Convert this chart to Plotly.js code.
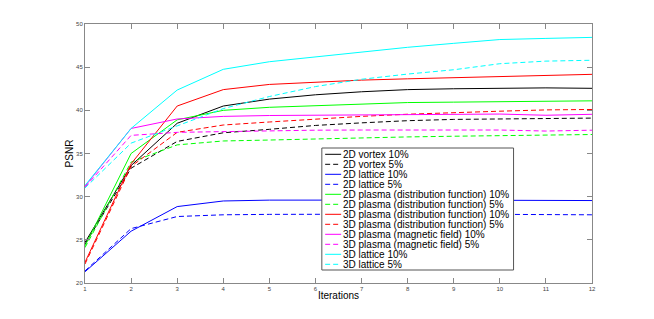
<!DOCTYPE html>
<html>
<head>
<meta charset="utf-8">
<script src="https://cdn.plot.ly/plotly-3.0.1.min.js"></script>
<style>html,body{margin:0;padding:0;background:#fff;}#chart{width:654px;height:319px;}</style>
</head>
<body>
<div id="chart"></div>
<script>
var iterations = [1, 2, 3, 4, 5, 6, 7, 8, 9, 10, 11, 12];

var vortex2d10   = [24.7, 33.6, 38.5, 40.5, 41.3, 41.8, 42.15, 42.4, 42.5, 42.55, 42.6, 42.55];
var vortex2d5    = [24.5, 33.3, 36.4, 37.4, 37.8, 38.25, 38.55, 38.8, 38.95, 39.0, 39.05, 39.1];
var lattice2d10  = [21.3, 26.0, 28.85, 29.5, 29.6, 29.62, 29.62, 29.6, 29.6, 29.58, 29.55, 29.55];
var lattice2d5   = [21.4, 26.3, 27.7, 27.9, 27.95, 27.97, 28.0, 28.0, 27.98, 27.95, 27.92, 27.9];
var plasma2d10   = [24.3, 35.0, 38.9, 40.0, 40.35, 40.55, 40.73, 40.9, 40.95, 41.0, 41.05, 41.1];
var plasma2d5    = [24.1, 34.0, 36.0, 36.45, 36.56, 36.7, 36.82, 36.92, 37.0, 37.05, 37.15, 37.2];
var plasma3d10   = [22.4, 33.8, 40.5, 42.4, 43.0, 43.25, 43.5, 43.65, 43.8, 43.88, 44.05, 44.17];
var plasma3d5    = [22.2, 33.5, 37.45, 38.3, 38.65, 39.0, 39.3, 39.55, 39.75, 39.9, 40.05, 40.1];
var magnetic3d10 = [31.2, 37.9, 39.0, 39.3, 39.4, 39.45, 39.5, 39.55, 39.57, 39.57, 39.43, 39.54];
var magnetic3d5  = [31.1, 37.1, 37.45, 37.55, 37.65, 37.7, 37.72, 37.72, 37.72, 37.72, 37.6, 37.7];
var lattice3d10  = [31.3, 37.9, 42.35, 44.75, 45.63, 46.2, 46.8, 47.3, 47.76, 48.2, 48.33, 48.45];
var lattice3d5   = [31.0, 36.2, 38.2, 40.2, 41.6, 42.75, 43.6, 44.2, 44.7, 45.4, 45.7, 45.8];

var seriesNames = [
  "2D vortex 10%", "2D vortex 5%",
  "2D lattice 10%", "2D lattice 5%",
  "2D plasma (distribution function) 10%", "2D plasma (distribution function) 5%",
  "3D plasma (distribution function) 10%", "3D plasma (distribution function) 5%",
  "3D plasma (magnetic field) 10%", "3D plasma (magnetic field) 5%",
  "3D lattice 10%", "3D lattice 5%"
];
var seriesValues = [vortex2d10, vortex2d5, lattice2d10, lattice2d5, plasma2d10, plasma2d5,
                    plasma3d10, plasma3d5, magnetic3d10, magnetic3d5, lattice3d10, lattice3d5];
var seriesColors = ["#000000", "#000000", "#0000ff", "#0000ff", "#00ff00", "#00ff00",
                    "#ff0000", "#ff0000", "#ff00ff", "#ff00ff", "#00ffff", "#00ffff"];
var seriesDash = ["solid", "5px,3px", "solid", "5px,3px", "solid", "5px,3px",
                  "solid", "5px,3px", "solid", "5px,3px", "solid", "5px,3px"];

var traces = seriesValues.map(function (vals, i) {
  return {
    x: iterations, y: vals, type: "scatter", mode: "lines",
    name: seriesNames[i], showlegend: false,
    line: {color: seriesColors[i], width: 1, dash: seriesDash[i]}
  };
});

// plot area in pixels
var L = 85, R = 591.7, T = 24, B = 283;
function px(x) { return (x - L) / (R - L); }
function py(y) { return (B - y) / (B - T); }

var shapes = [{
  type: "rect", xref: "paper", yref: "paper",
  x0: px(321.7), x1: px(513.3), y0: py(270), y1: py(148),
  line: {color: "#555555", width: 1}, fillcolor: "#ffffff", layer: "above"
}];
var annotations = [];
seriesNames.forEach(function (name, i) {
  var yy = 154.3 + i * 10;
  shapes.push({
    type: "line", xref: "paper", yref: "paper",
    x0: px(325), x1: px(341), y0: py(yy), y1: py(yy),
    line: {color: seriesColors[i], width: 1, dash: seriesDash[i]}, layer: "above"
  });
  annotations.push({
    xref: "paper", yref: "paper", x: px(341.5), y: py(yy),
    xanchor: "left", yanchor: "middle", showarrow: false,
    text: name, borderpad: 0,
    font: {family: "Liberation Sans, Arial, sans-serif", size: 10, color: "#000"}
  });
});

var axisCommon = {
  showline: true, linecolor: "#888888", linewidth: 1, mirror: "ticks",
  ticks: "inside", ticklen: 5, tickwidth: 1, tickcolor: "#888888",
  showgrid: false, zeroline: false,
  tickfont: {family: "Liberation Sans, Arial, sans-serif", size: 6, color: "#444"}
};

var layout = {
  width: 654, height: 319,
  margin: {l: L, r: 654 - R, t: T, b: 319 - B, pad: 0},
  paper_bgcolor: "#fff", plot_bgcolor: "#fff",
  showlegend: false,
  xaxis: Object.assign({}, axisCommon, {
    range: [1, 12], tickvals: iterations, ticktext: iterations.map(String),
    title: {text: "Iterations", standoff: 0,
            font: {family: "Liberation Sans, Arial, sans-serif", size: 10, color: "#000"}}
  }),
  yaxis: Object.assign({}, axisCommon, {
    range: [20, 50], tickvals: [20, 25, 30, 35, 40, 45, 50],
    title: {text: "PSNR", standoff: 0,
            font: {family: "Liberation Sans, Arial, sans-serif", size: 10, color: "#000"}}
  }),
  shapes: shapes,
  annotations: annotations
};

Plotly.newPlot("chart", traces, layout, {displayModeBar: false, staticPlot: true});
</script>
</body>
</html>
